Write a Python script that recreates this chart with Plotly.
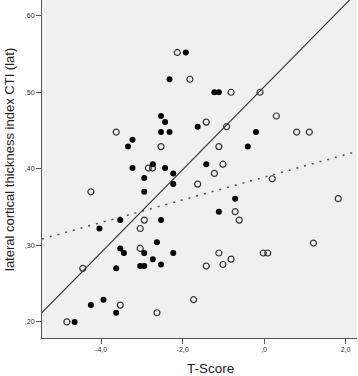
import plotly.graph_objects as go

# Filled markers (group 1)
filled_x = [-1.92, -2.32, -2.53, -2.43, -2.53, -2.32, -1.63, -3.23, -3.34, -3.23,
            -2.73, -2.43, -2.23, -2.94, -2.23, -2.94, -3.53, -2.53, -4.04, -3.53,
            -3.44, -2.94, -2.63, -2.23, -2.73, -2.53, -3.04, -2.94, -3.63, -4.25,
            -3.94, -3.63, -4.65, -1.22, -1.11, -0.20, -0.40, -1.42, -0.71, -1.11]
filled_y = [0.552, 0.517, 0.469, 0.461, 0.448, 0.448, 0.455, 0.438, 0.429, 0.401,
            0.406, 0.401, 0.394, 0.388, 0.380, 0.370, 0.333, 0.333, 0.322, 0.296,
            0.290, 0.290, 0.304, 0.290, 0.282, 0.275, 0.273, 0.273, 0.270, 0.222,
            0.229, 0.212, 0.200, 0.500, 0.500, 0.448, 0.429, 0.406, 0.361, 0.344]

# Open markers (group 2)
open_x = [-2.13, -1.82, -3.63, -2.53, -2.84, -2.74, -1.63, -4.25, -2.94, -3.04,
          -3.04, -4.45, -3.53, -2.63, -1.73, -4.84, -0.81, -0.10, 0.30, -1.42,
          -0.92, 0.80, 1.11, -1.11, -1.01, -1.22, 0.20, -0.71, -0.61, 1.82,
          1.21, -1.11, -0.02, 0.09, -0.81, -1.42, -1.01]
open_y = [0.552, 0.517, 0.448, 0.429, 0.401, 0.401, 0.380, 0.370, 0.333, 0.322,
          0.296, 0.270, 0.222, 0.212, 0.229, 0.200, 0.500, 0.500, 0.469, 0.461,
          0.455, 0.448, 0.448, 0.429, 0.406, 0.394, 0.387, 0.344, 0.333, 0.361,
          0.303, 0.290, 0.290, 0.290, 0.282, 0.273, 0.275]

# Fit lines (intercept, slope)
solid_intercept, solid_slope = 0.507, 0.0541
dotted_intercept, dotted_slope = 0.389, 0.0148
line_x = [-5.45, 2.28]

x_tickvals = [-4, -2, 0, 2]
x_ticktext = ["-4,0", "-2,0", ",0", "2,0"]
y_tickvals = [0.2, 0.3, 0.4, 0.5, 0.6]
y_ticktext = [",20", ",30", ",40", ",50", ",60"]

fig = go.Figure()
fig.add_trace(go.Scatter(
    x=line_x, y=[dotted_intercept + dotted_slope * v for v in line_x],
    mode="lines", line=dict(color="#555555", width=1.6, dash="2px,6px"),
    hoverinfo="skip", showlegend=False))
fig.add_trace(go.Scatter(
    x=line_x, y=[solid_intercept + solid_slope * v for v in line_x],
    mode="lines", line=dict(color="#333333", width=1.1),
    hoverinfo="skip", showlegend=False))
fig.add_trace(go.Scatter(
    x=open_x, y=open_y, mode="markers",
    marker=dict(symbol="circle-open", size=6, color="#333333", line=dict(width=1.2)),
    showlegend=False))
fig.add_trace(go.Scatter(
    x=filled_x, y=filled_y, mode="markers",
    marker=dict(symbol="circle", size=6, color="#000000", line=dict(width=0)),
    showlegend=False))

axis_font = dict(family="Liberation Sans, Arial, sans-serif", size=7, color="#333333")
fig.update_layout(
    width=358, height=376,
    margin=dict(l=42, r=1, t=0, b=38),
    paper_bgcolor="white", plot_bgcolor="#f0f0f0",
    xaxis=dict(range=[-5.45, 2.28], tickvals=x_tickvals, ticktext=x_ticktext,
               showgrid=False, zeroline=False, showline=True, linecolor="#555555",
               linewidth=1, ticks="outside", ticklen=5, tickcolor="#555555",
               tickfont=axis_font),
    yaxis=dict(range=[0.179, 0.6205], tickvals=y_tickvals, ticktext=y_ticktext,
               showgrid=False, zeroline=False, showline=True, linecolor="#555555",
               linewidth=1, ticks="outside", ticklen=5, tickcolor="#555555",
               tickfont=axis_font),
    annotations=[
        dict(text="T-Score", xref="paper", yref="paper", x=(210 - 42) / 315,
             y=(338 - 369) / 338, xanchor="center", yanchor="middle", showarrow=False,
             font=dict(family="Liberation Sans, Arial, sans-serif", size=13.5, color="#222222")),
        dict(text="lateral cortical thickness index CTI (lat)", xref="paper", yref="paper",
             x=(9 - 42) / 315, y=(338 - 160) / 338, xanchor="center", yanchor="middle",
             textangle=-90, showarrow=False,
             font=dict(family="Liberation Sans, Arial, sans-serif", size=13, color="#222222")),
    ],
)
fig.write_html("out.html", config={"displayModeBar": False},
               post_script="document.body.style.margin='0';document.body.style.overflow='hidden';")
